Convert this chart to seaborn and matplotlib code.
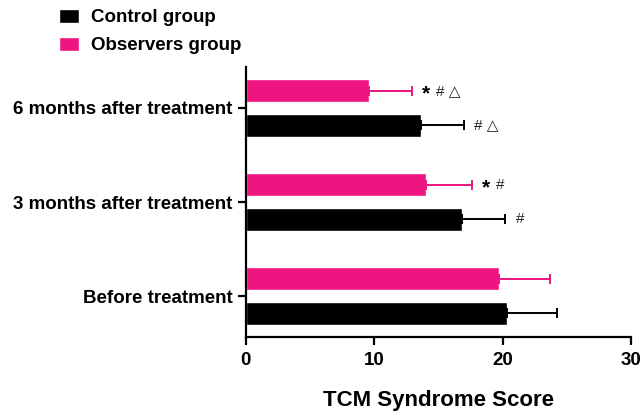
import numpy as np
import pandas as pd
import matplotlib
matplotlib.use("Agg")
import matplotlib.pyplot as plt
import matplotlib.transforms as mtransforms
import seaborn as sns
from matplotlib.patches import Patch

# data
stages = ["6 months after treatment", "3 months after treatment", "Before treatment"]
control_mean = [13.6, 16.8, 20.3]
control_sd = [3.4, 3.4, 3.9]
observers_mean = [9.6, 14.0, 19.7]
observers_sd = [3.3, 3.6, 4.0]
control_star = [False, False, False]
control_marks = ["# \u25b3", "#", ""]
observers_star = [True, True, False]
observers_marks = ["# \u25b3", "#", ""]

black = "#000000"
pink = "#EE1580"

df = pd.DataFrame({
    "stage": stages * 2,
    "score": observers_mean + control_mean,
    "group": ["Observers group"] * 3 + ["Control group"] * 3,
})

sns.set_style("white")
plt.rcParams['font.family'] = ['Liberation Sans', 'DejaVu Sans']
plt.rcParams['font.weight'] = 'bold'
plt.rcParams['text.color'] = 'black'
plt.rcParams['axes.labelcolor'] = 'black'

fig = plt.figure(figsize=(6.42, 4.11), dpi=100)
ax = fig.add_axes([0.383, 0.180, 0.600, 0.657])

sns.barplot(data=df, y="stage", x="score", hue="group", order=stages,
            hue_order=["Observers group", "Control group"],
            palette={"Observers group": pink, "Control group": black},
            orient="h", width=0.734, gap=0.33, errorbar=None, saturation=1,
            ax=ax, legend=False)

ypos = np.arange(len(stages))
off = 0.734 / 4
for means, sds, stars, marks, col, dy in [
        (observers_mean, observers_sd, observers_star, observers_marks, pink, -off),
        (control_mean, control_sd, control_star, control_marks, black, off)]:
    m = np.array(means)
    s = np.array(sds)
    ax.errorbar(m, ypos + dy, xerr=[np.zeros_like(s), s], fmt="none",
                ecolor=col, elinewidth=1.4, capsize=3.6, capthick=1.4)
    for i in range(len(stages)):
        x0 = m[i] + s[i] + 0.8
        shift = 0
        if stars[i]:
            ax.text(x0, ypos[i] + dy + 0.03, "*", va="center", ha="left",
                    fontsize=15, fontweight="bold", color="black")
            shift = 10
        if marks[i]:
            tr = mtransforms.offset_copy(ax.transData, fig=fig, x=shift, y=0, units="points")
            ax.text(x0, ypos[i] + dy, marks[i], va="center", ha="left", transform=tr,
                    fontsize=11, fontweight="normal", color="#222222",
                    family=['Liberation Sans', 'DejaVu Sans'])

ax.set_xlim(0, 30)
ax.set_ylim(2.436, -0.436)
ax.set_xticks([0, 10, 20, 30])
ax.set_xlabel("TCM Syndrome Score", fontsize=16, fontweight="bold", labelpad=15)
ax.set_ylabel("")
sns.despine(ax=ax)
for sp in ["left", "bottom"]:
    ax.spines[sp].set_linewidth(1.6)
    ax.spines[sp].set_color("black")
ax.tick_params(axis="both", direction="out", length=6, width=1.6, labelsize=13.5,
               left=True, bottom=True, colors="black")
ax.tick_params(axis="x", pad=5)
for lab in ax.get_xticklabels() + ax.get_yticklabels():
    lab.set_fontweight("bold")

handles = [Patch(facecolor=black, label="Control group"),
           Patch(facecolor=pink, label="Observers group")]
fig.legend(handles=handles, loc="upper left", bbox_to_anchor=(0.065, 1.02), frameon=False,
           prop={"size": 13.5, "weight": "bold"}, handlelength=1.1, handleheight=0.8,
           labelspacing=0.55, handletextpad=0.65)

fig.savefig("out.png", dpi=100)
